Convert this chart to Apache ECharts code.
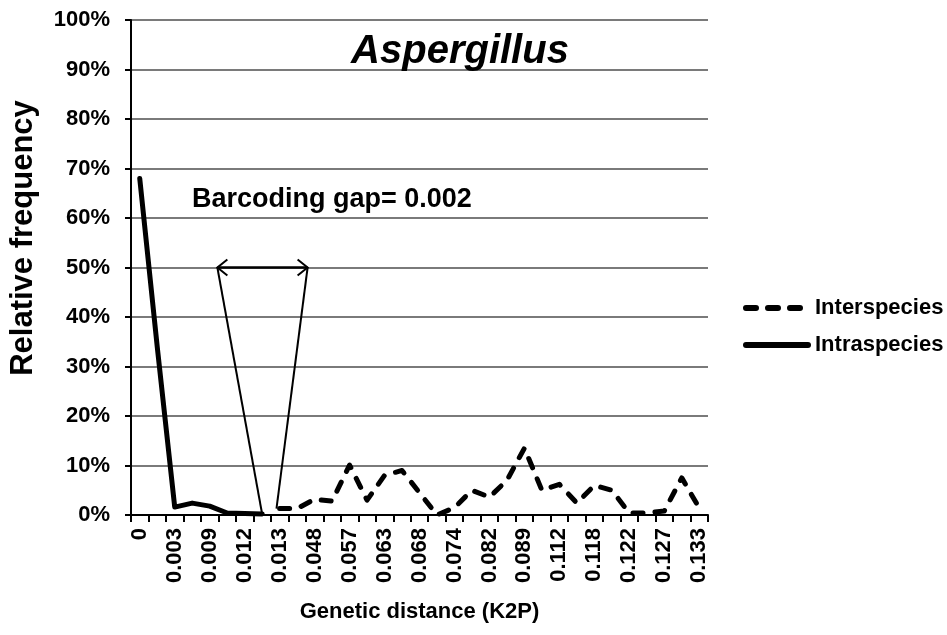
<!DOCTYPE html>
<html>
<head>
<meta charset="utf-8">
<script src="https://cdn.jsdelivr.net/npm/echarts@6/dist/echarts.min.js"></script>
<style>html,body{margin:0;padding:0;background:#fff}#c{width:947px;height:635px}</style>
</head>
<body>
<div id="c"></div>
<script>
const categories = ['0','0.001','0.003','0.006','0.009','0.010','0.012','0.011','0.013','0.030','0.048','0.052','0.057','0.060','0.063','0.066','0.068','0.071','0.074','0.078','0.082','0.085','0.089','0.100','0.112','0.115','0.118','0.120','0.122','0.125','0.127','0.130','0.133'];
const intraspecies = [68, 34, 1.6, 2.4, 1.8, 0.4, 0.3, 0.2];
const interspecies = [1.3, 1.3, 3.2, 2.8, 10.1, 3.0, 8.0, 9.0, 4.5, 0, 1.5, 5.0, 3.6, 7.0, 13.5, 5.0, 6.2, 2.4, 6.0, 5.0, 0.4, 0.4, 0.8, 7.5, 1.4];
const intraStart = 0;
const interStart = 8;
const gapLabel = 'Barcoding gap= 0.002';
const titleText = 'Aspergillus';
const yName = 'Relative frequency';
const xName = 'Genetic distance (K2P)';

const FONT = 'Liberation Sans, Arial, sans-serif';
function fill(arr, start) {
  const out = categories.map(() => '-');
  arr.forEach((v, i) => { out[start + i] = v; });
  return out;
}

const chart = echarts.init(document.getElementById('c'), null, {renderer: 'canvas'});
chart.setOption({
  animation: false,
  backgroundColor: '#fff',
  grid: {left: 131, right: 239, top: 20, bottom: 120, containLabel: false},
  legend: {
    orient: 'vertical', left: 738, top: 292,
    itemWidth: 62, itemHeight: 14, itemGap: 15,
    itemStyle: {color: 'rgba(0,0,0,0)', borderWidth: 0},
    lineStyle: {width: 6},
    textStyle: {fontFamily: FONT, fontWeight: 'bold', fontSize: 22, lineHeight: 22, color: '#000', padding: [0, 0, 0, 2]},
    data: ['Interspecies', 'Intraspecies']
  },
  xAxis: {
    type: 'category', data: categories, boundaryGap: true,
    name: xName, nameLocation: 'middle', nameGap: 86,
    nameTextStyle: {fontFamily: FONT, fontWeight: 'bold', fontSize: 22, color: '#000'},
    axisLine: {lineStyle: {color: '#000', width: 2}},
    axisTick: {show: true, length: 7, interval: 0, lineStyle: {color: '#000', width: 2}},
    axisLabel: {interval: 1, rotate: 90, margin: 13, fontFamily: FONT, fontWeight: 'bold', fontSize: 22, color: '#000'},
    splitLine: {show: false}
  },
  yAxis: {
    type: 'value', min: 0, max: 100, interval: 10,
    axisLine: {show: true, lineStyle: {color: '#000', width: 2}},
    axisTick: {show: true, length: 6, lineStyle: {color: '#000', width: 2}},
    axisLabel: {formatter: '{value}%', margin: 21, fontFamily: FONT, fontWeight: 'bold', fontSize: 22, color: '#000'},
    splitLine: {show: true, lineStyle: {color: '#7a7a7a', width: 2}}
  },
  series: [
    {
      name: 'Interspecies', type: 'line', data: fill(interspecies, interStart),
      symbol: 'none', connectNulls: false,
      lineStyle: {color: '#000', width: 5, type: [10, 12], cap: 'round', join: 'round'},
      itemStyle: {color: '#000'}, z: 3
    },
    {
      name: 'Intraspecies', type: 'line', data: fill(intraspecies, intraStart),
      symbol: 'none', connectNulls: false,
      lineStyle: {color: '#000', width: 5, type: 'solid', cap: 'round', join: 'round'},
      itemStyle: {color: '#000'}, z: 3
    }
  ]
});

function px(i, v) {
  const i0 = Math.floor(i);
  const a = chart.convertToPixel({gridIndex: 0}, [i0, v]);
  const b = chart.convertToPixel({gridIndex: 0}, [i0 + 1, v]);
  return [a[0] + (b[0] - a[0]) * (i - i0), a[1]];
}
const lastIntra = intraStart + intraspecies.length - 1;
const bl = px(lastIntra, intraspecies[intraspecies.length - 1]);
const br = px(interStart - 0.18, interspecies[0]);
const tl = px(4.44, 50);
const tr = px(9.6, 50);
const ah = 10;
const g = [
  {type: 'polyline', shape: {points: [bl, tl]}, style: {stroke: '#000', lineWidth: 2, fill: null}, z: 10},
  {type: 'polyline', shape: {points: [br, tr]}, style: {stroke: '#000', lineWidth: 2, fill: null}, z: 10},
  {type: 'polyline', shape: {points: [tl, tr]}, style: {stroke: '#000', lineWidth: 2.5, fill: null}, z: 10},
  {type: 'polyline', shape: {points: [[tl[0] + ah, tl[1] - 8], tl, [tl[0] + ah, tl[1] + 8]]}, style: {stroke: '#000', lineWidth: 2, fill: null}, z: 10},
  {type: 'polyline', shape: {points: [[tr[0] - ah, tr[1] - 8], tr, [tr[0] - ah, tr[1] + 8]]}, style: {stroke: '#000', lineWidth: 2, fill: null}, z: 10},
  {type: 'text', x: 460, y: 52, style: {text: titleText, font: 'italic bold 40px ' + FONT, fill: '#000', align: 'center', verticalAlign: 'middle'}, z: 10},
  {type: 'text', x: 192, y: 200, style: {text: gapLabel, font: 'bold 27px ' + FONT, fill: '#000', align: 'left', verticalAlign: 'middle'}, z: 10},
  {type: 'text', x: 23, y: 238, rotation: Math.PI / 2, style: {text: yName, font: 'bold 31px ' + FONT, fill: '#000', align: 'center', verticalAlign: 'middle'}, z: 10}
];
chart.setOption({graphic: g});
</script>
</body>
</html>
